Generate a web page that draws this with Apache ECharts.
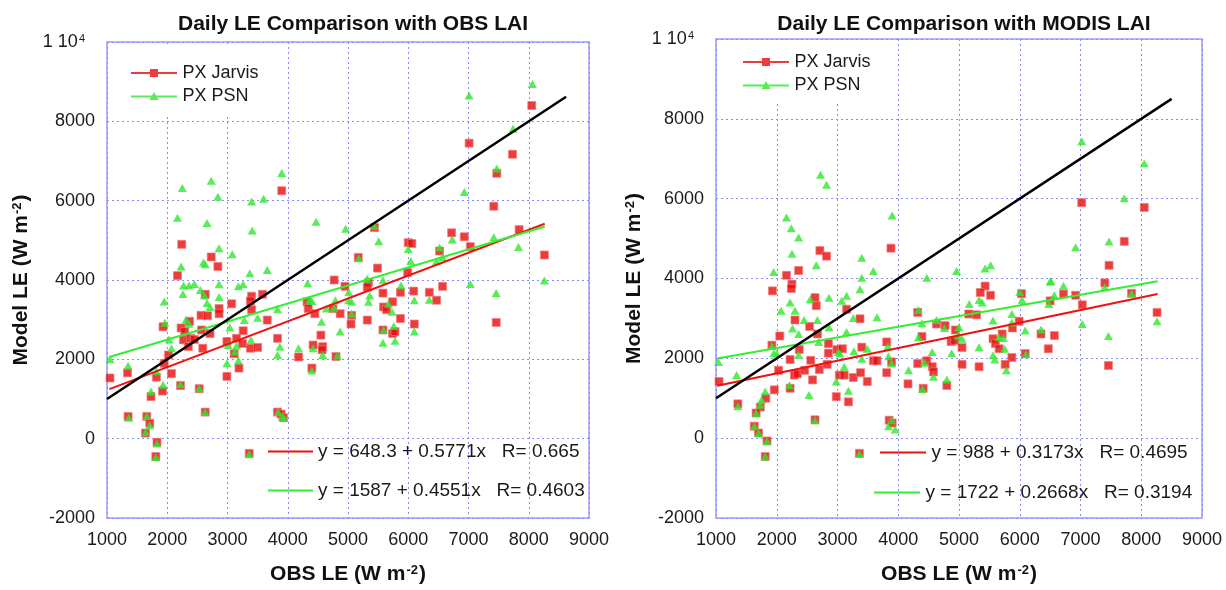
<!DOCTYPE html>
<html>
<head>
<meta charset="utf-8">
<title>Daily LE Comparison</title>
<script src="https://cdn.jsdelivr.net/npm/echarts@6/dist/echarts.min.js"></script>
<style>
  html, body { margin: 0; padding: 0; background: #fff; }
  #chart { width: 1226px; height: 590px; }
</style>
</head>
<body>
<div id="chart"></div>
<script>
// Daily latent heat flux: observed (x) vs modelled (y), W m-2.
// Left panel: run with observed LAI; right panel: run with MODIS LAI.

const obsLaiJarvis = [
  [3900,6250],[2240,4900],[2730,4580],[2840,4340],[2170,4110],[2630,3640],[3070,3400],[2860,3280],
  [2860,3150],[3400,3590],[3380,3470],[3580,3640],[2560,3110],[2670,3100],[3400,3250],[3660,2990],
  [1930,2820],[2230,2790],[2370,2960],[2290,2700],[2570,2740],[2710,2650],[2270,2490],[2390,2530],
  [2450,2500],[2350,2320],[2590,2280],[3260,2720],[3150,2530],[2990,2450],[3250,2400],[3380,2280],
  [3500,2300],[3830,2530],[3110,2140],[3190,1780],[2990,1570],[2020,2110],[1950,1900],[2070,1640],
  [1050,1530],[1340,1660],[1820,1550],[1920,1200],[2220,1340],[2530,1260],[1730,1060],[1350,560],
  [1660,560],[1710,390],[1640,140],[1830,-90],[1810,-450],[2630,670],[3830,670],[3890,620],
  [3930,530],[3360,-370],
  [5440,5320],[5170,4570],[6000,4940],[6060,4920],[6520,4730],[6720,5190],[5490,4300],[5990,4190],
  [4770,4000],[4950,3840],[5340,3940],[5320,3820],[5580,3670],[5870,3690],[6090,3720],[6350,3690],
  [6570,3840],[6470,3490],[4320,3450],[4340,3280],[4450,3150],[4750,3280],[4870,3150],[5060,3110],
  [5050,2890],[5590,3320],[5640,3250],[5740,3450],[5870,3030],[5320,2990],[6100,2890],[4550,2610],
  [5580,2740],[5740,2650],[5780,2700],[4420,2360],[4580,2320],[4570,2240],[4800,2070],[4180,2060],
  [4400,1780],
  [8050,8400],[7010,7450],[7730,7170],[7470,6690],[7420,5860],[6930,5090],[7030,4840],[7840,5270],
  [8260,4630],[7460,2930]
];

const obsLaiPsn = [
  [2250,6320],[2730,6500],[2840,6100],[3900,6700],[3400,5980],[3600,6050],[2170,5570],[2660,5440],
  [3410,5250],[2860,4800],[3080,4650],[2230,4340],[2600,4440],[2630,4400],[3370,4170],[3660,4250],
  [2270,3860],[2360,3860],[2450,3900],[2260,3650],[2550,3750],[2620,3610],[2860,3890],[2860,3570],
  [3180,3840],[3260,3890],[2660,3420],[2710,3320],[1950,3460],[1960,2920],[2310,3000],[2360,2900],
  [3040,2800],[3280,2990],[3500,3050],[3830,3260],[2030,2500],[2070,2280],[3010,2360],[3150,2340],
  [3390,2490],[3120,2200],[2990,1900],[3180,1970],[3870,2320],[3830,2110],[1050,2000],[1350,1840],
  [1820,1700],[1930,1360],[2220,1380],[2530,1270],[1730,1190],[1360,530],[1660,570],[1710,340],
  [1640,160],[1830,-120],[1810,-470],[2630,670],[3840,670],[3910,560],[3940,520],[3360,-390],
  [4470,5470],[4960,5290],[5440,5360],[5510,4980],[5180,4550],[6000,4780],[6040,4480],[6520,4820],
  [6570,4580],[6470,4480],[6730,5020],[4330,3920],[5320,4030],[5580,4000],[5880,3860],[4360,3500],
  [4400,3470],[4640,3280],[4770,3300],[4790,3490],[5010,3690],[5010,3490],[5060,3450],[5360,3610],
  [5340,3450],[5670,3400],[6100,3490],[6350,3500],[5060,3150],[5730,3200],[4560,2950],[5760,2840],
  [4870,2700],[5590,2740],[5580,2420],[5780,2470],[6100,2700],[4180,2280],[4420,2280],[4580,2110],
  [4820,2090],[4400,1720],
  [7010,8650],[8060,8940],[7740,7810],[7470,6810],[6930,6220],[7420,5080],[7830,4830],[7030,3900],
  [7460,3670],[8260,3990]
];

const modisLaiJarvis = [
  [3880,4760],[2710,4700],[2820,4560],[2160,4080],[2360,4200],[2250,3860],[2240,3750],[1930,3690],
  [2630,3520],[2650,3320],[3150,3230],[3370,2990],[2300,2960],[2540,2800],[2670,2610],[2050,2560],
  [1920,2330],[2370,2220],[2850,2370],[2850,2130],[2990,2220],[3080,2240],[3400,2280],[3810,2410],
  [2220,1970],[2560,1950],[2290,1580],[2340,1610],[2460,1700],[2700,1720],[2830,1850],[2590,1460],
  [3030,1580],[3110,1580],[3260,1520],[3380,1640],[3590,1940],[3650,1940],[3490,1420],[3810,1640],
  [1050,1420],[2030,1700],[1960,1210],[1820,1000],[1730,780],[2220,1250],[2980,1040],[3180,910],
  [1360,860],[1660,630],[1630,300],[1700,130],[1840,-70],[1810,-460],[2630,460],[3360,-380],
  [5430,3810],[5350,3650],[5520,3580],[6030,3620],[6500,3440],[4320,3150],[5160,3110],[5290,3090],
  [4630,2860],[4770,2820],[5990,2930],[5880,2760],[4940,2710],[4390,2550],[5710,2610],[6350,2610],
  [4870,2420],[4930,2450],[5050,2270],[5560,2490],[5600,2370],[5660,2240],[6470,2240],[3890,1910],
  [4320,1870],[4470,1940],[4560,1790],[4580,1660],[5050,1850],[5330,1790],[5870,2020],[5760,1850],
  [6090,2120],[4160,1360],[4800,1320],[4410,1250],[3850,450],[3900,380],
  [7020,5900],[8050,5780],[7720,4930],[7470,4330],[7400,3890],[6720,3610],[6920,3580],[7030,3340],
  [7840,3630],[8260,3150],[6570,2570],[7460,1820]
];

const modisLaiPsn = [
  [2720,6600],[2820,6350],[2160,5530],[2240,5260],[2360,5030],[2250,4620],[1950,4160],[2650,4330],
  [3400,4520],[3400,4020],[3590,4190],[3370,3730],[2550,3480],[2860,3520],[3150,3570],[3070,3440],
  [2220,3400],[2070,3190],[2300,3190],[2450,2960],[2670,2960],[3260,3010],[3650,3030],[2260,2750],
  [2360,2610],[2860,2780],[3150,2660],[2690,2410],[1920,2310],[1950,2130],[2000,2120],[2360,2090],
  [3010,2160],[3040,2120],[3270,2180],[3490,2240],[3400,1990],[1040,1910],[1340,1580],[3110,1790],
  [2980,1420],[2210,1330],[1810,1170],[1750,960],[2530,1080],[3180,1190],[1360,800],[1730,840],
  [1660,630],[1630,300],[1700,130],[1840,-70],[1810,-460],[2630,450],[3360,-390],
  [3900,5580],[4470,4020],[4960,4190],[5430,4250],[5520,4330],[6500,3920],[6720,3820],[6000,3660],
  [6040,3460],[6570,3580],[5330,3460],[5380,3400],[5170,3360],[4330,3210],[5870,3110],[4390,2880],
  [4630,2960],[4760,2760],[5560,2950],[5000,2780],[4980,2570],[5050,2490],[4330,2530],[5870,2900],
  [6090,2700],[6350,2720],[5660,2530],[5730,2510],[3830,2300],[5750,2240],[5330,2280],[4560,2160],
  [4880,2130],[5560,2080],[5590,1970],[6100,2100],[3840,2050],[3890,1870],[4170,1700],[4430,1890],
  [4580,1540],[4800,1470],[5780,1700],[4400,1230],[3890,450],[3840,300],[3950,220],
  [7020,7440],[8050,6890],[7720,6010],[7470,4930],[6920,4780],[6510,3940],[6480,3360],[7400,3790],
  [7840,3630],[7030,2860],[7460,2560],[8260,2930]
];

// Least-squares fits: [intercept, slope, R]
const fitObsJarvis = [648.3, 0.5771, 0.665];
const fitObsPsn = [1587, 0.4551, 0.4603];
const fitModisJarvis = [988, 0.3173, 0.4695];
const fitModisPsn = [1722, 0.2668, 0.3194];

// x extent of each fitted line and of the 1:1 reference line
const fitRangeObs = [1040, 8265];
const fitRangeModis = [1020, 8270];
const oneToOneObs = [1000, 8620];
const oneToOneModis = [1000, 8500];

const xTicks = [1000, 9000, 1000];     // min, max, interval
const yTicks = [-2000, 10000, 2000];   // min, max, interval

const panelTitles = ['Daily LE Comparison with OBS LAI', 'Daily LE Comparison with MODIS LAI'];
const seriesNames = ['PX Jarvis', 'PX PSN'];

const RED = '#e60d0d';
const GREEN = '#2ee82e';
const FONT = '"Liberation Sans", Arial, sans-serif';

const chart = echarts.init(document.getElementById('chart'), null, { renderer: 'canvas' });

const fitLine = (fit, range) => range.map(x => [x, fit[0] + fit[1] * x]);
const eqText = fit => `y = ${fit[0]} + ${fit[1]}x   R= ${fit[2]}`;

const nameStyle = {
  fontFamily: FONT, fontSize: 21, fontWeight: 'bold', color: '#111',
  rich: { s: { fontFamily: FONT, fontSize: 13, fontWeight: 'bold', color: '#111', verticalAlign: 'top', padding: [0, 1, 0, 1] } }
};
const gridLineStyle = { color: '#8a8aff', width: 1, type: [2, 3] };

function xAxis(gi) {
  return {
    gridIndex: gi, type: 'value', min: xTicks[0], max: xTicks[1], interval: xTicks[2],
    name: 'OBS LE (W m{s|-2})', nameLocation: 'middle', nameGap: 46, nameTextStyle: nameStyle,
    axisLine: { show: false }, axisTick: { show: false },
    axisLabel: { fontFamily: FONT, fontSize: 18, color: '#1a1a1a', margin: 13, formatter: v => String(v) },
    splitLine: { show: true, lineStyle: gridLineStyle }
  };
}

function yAxis(gi, gap) {
  return {
    gridIndex: gi, type: 'value', min: yTicks[0], max: yTicks[1], interval: yTicks[2],
    name: 'Model LE (W m{s|-2})', nameLocation: 'middle', nameGap: gap, nameRotate: 90, nameTextStyle: nameStyle,
    axisLine: { show: false }, axisTick: { show: false },
    axisLabel: {
      fontFamily: FONT, fontSize: 18, color: '#1a1a1a', margin: 12,
      formatter: v => (v === 10000 ? '{m|1 10}{s|4}' : String(v)),
      rich: {
        m: { fontFamily: FONT, fontSize: 18, color: '#1a1a1a' },
        s: { fontFamily: FONT, fontSize: 11, color: '#1a1a1a', verticalAlign: 'top', padding: [0, 10, 0, 1] }
      }
    },
    splitLine: { show: true, lineStyle: gridLineStyle }
  };
}

// legend glyphs: a short line with the series marker in the middle
const squareIcon = 'path://M0,3 L46,3 L46,5 L0,5 Z M19,0 L27,0 L27,8 L19,8 Z';
const triangleIcon = 'path://M0,3.5 L46,3.5 L46,5.5 L0,5.5 Z M23,0 L27.5,8 L18.5,8 Z';
const barIcon = 'path://M0,0 L46,0 L46,2 L0,2 Z';

function seriesLegend(left, top, padding) {
  return {
    orient: 'vertical', left: left, top: top, padding: padding,
    itemWidth: 47, itemHeight: 8, itemGap: 5,
    selectedMode: false, backgroundColor: '#fff',
    data: [
      { name: seriesNames[0], icon: squareIcon, itemStyle: { color: RED, borderWidth: 0 } },
      { name: seriesNames[1], icon: triangleIcon, itemStyle: { color: GREEN, borderWidth: 0 } }
    ],
    textStyle: { fontFamily: FONT, fontSize: 18, color: '#1a1a1a' }
  };
}

function eqLegend(name, left, top, width) {
  return {
    orient: 'vertical', left: left, top: top, itemWidth: width, itemHeight: 2, padding: 0,
    selectedMode: false, data: [{ name: name, icon: barIcon }],
    textStyle: { fontFamily: FONT, fontSize: 19, color: '#1a1a1a' }
  };
}

function panelSeries(gi, jarvis, psn, fitJ, fitP, fitRange, oneToOne) {
  return [
    { name: seriesNames[0], type: 'scatter', xAxisIndex: gi, yAxisIndex: gi, data: jarvis,
      symbol: 'rect', symbolSize: 8, z: 2,
      itemStyle: { color: RED, borderColor: 'rgba(245,120,120,0.85)', borderWidth: 1 } },
    { name: seriesNames[1], type: 'scatter', xAxisIndex: gi, yAxisIndex: gi, data: psn,
      symbol: 'triangle', symbolSize: [9, 8], z: 3,
      itemStyle: { color: GREEN } },
    { name: eqText(fitJ), type: 'line', xAxisIndex: gi, yAxisIndex: gi, data: fitLine(fitJ, fitRange),
      symbol: 'none', z: 4, itemStyle: { color: '#ee1111' }, lineStyle: { color: '#ee1111', width: 2 } },
    { name: eqText(fitP), type: 'line', xAxisIndex: gi, yAxisIndex: gi, data: fitLine(fitP, fitRange),
      symbol: 'none', z: 5, itemStyle: { color: '#33ee33' }, lineStyle: { color: '#33ee33', width: 2 } },
    { name: '1:1', type: 'line', xAxisIndex: gi, yAxisIndex: gi, data: oneToOne.map(v => [v, v]),
      symbol: 'none', z: 6, lineStyle: { color: '#000', width: 2.5 } }
  ];
}

const legends = [
  seriesLegend(109, 44, [20, 12, 9, 22]),
  seriesLegend(717, 40, [13, 12, 8, 26]),
  eqLegend(eqText(fitObsJarvis), 268, 442, 45),
  eqLegend(eqText(fitObsPsn), 268, 481, 45),
  eqLegend(eqText(fitModisJarvis), 880, 443, 47),
  eqLegend(eqText(fitModisPsn), 874, 483, 47)
];

const titleStyle = { fontFamily: FONT, fontSize: 21, fontWeight: 'bold', color: '#111' };

chart.setOption({
  animation: false,
  backgroundColor: '#fff',
  title: [
    { text: panelTitles[0], left: 348, top: 9, textAlign: 'center', textStyle: titleStyle },
    { text: panelTitles[1], left: 959, top: 9, textAlign: 'center', textStyle: titleStyle }
  ],
  legend: legends,
  grid: [
    { left: 107, right: 637, top: 42, bottom: 67, show: true, borderColor: '#9c9cff', borderWidth: 1.5, containLabel: false },
    { left: 716, right: 24, top: 39, bottom: 68, show: true, borderColor: '#9c9cff', borderWidth: 1.5, containLabel: false }
  ],
  xAxis: [xAxis(0), xAxis(1)],
  yAxis: [yAxis(0, 75), yAxis(1, 71)],
  series: [
    ...panelSeries(0, obsLaiJarvis, obsLaiPsn, fitObsJarvis, fitObsPsn, fitRangeObs, oneToOneObs),
    ...panelSeries(1, modisLaiJarvis, modisLaiPsn, fitModisJarvis, fitModisPsn, fitRangeModis, oneToOneModis)
  ]
});
</script>
</body>
</html>
